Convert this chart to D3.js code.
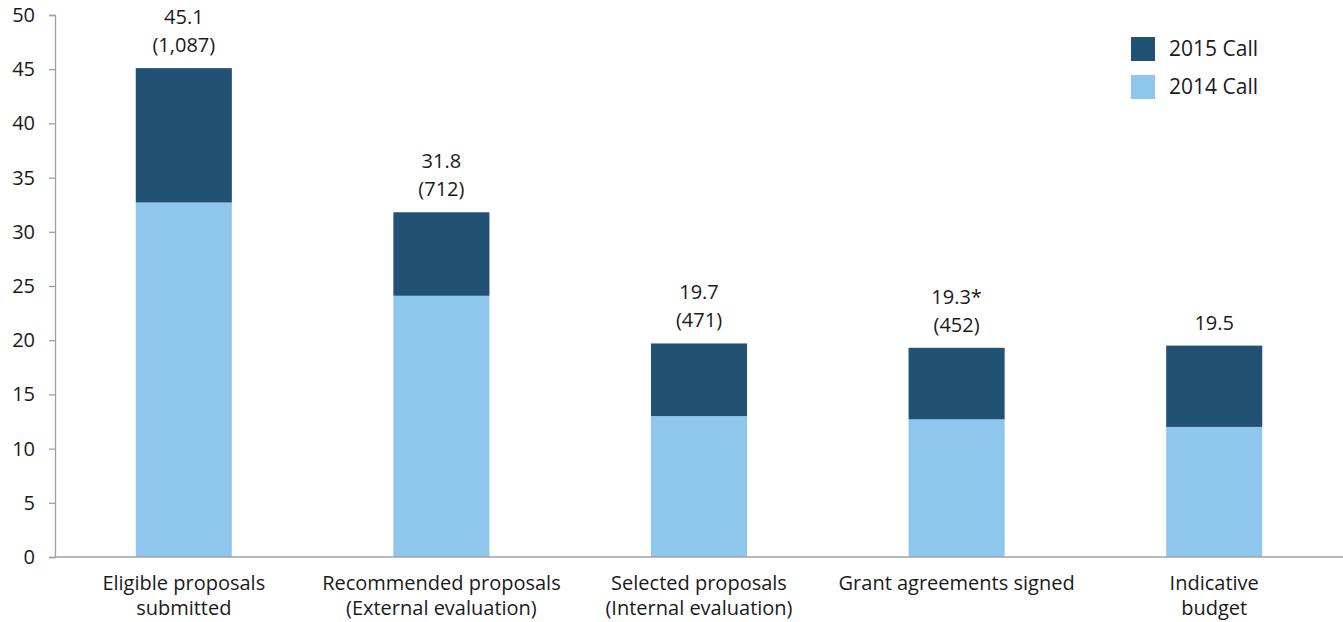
<!DOCTYPE html>
<html>
<head>
<meta charset="utf-8">
<script src="https://cdn.jsdelivr.net/npm/d3@7"></script>
<style>
  html, body { margin: 0; padding: 0; background: #fff; }
  svg { display: block; }
  text { font-family: "Open Sans", "Noto Sans", sans-serif; fill: #1a1a1a; }
</style>
</head>
<body>
<svg id="chart" width="1343" height="622"></svg>
<script>
// Budget (EUR million) by stage, split by call year
const categories = [
  ["Eligible proposals", "submitted"],
  ["Recommended proposals", "(External evaluation)"],
  ["Selected proposals", "(Internal evaluation)"],
  ["Grant agreements signed"],
  ["Indicative", "budget"]
];
const call2014 = [32.7, 24.1, 13.0, 12.7, 12.0];
const call2015 = [12.4, 7.7, 6.7, 6.6, 7.5];
const totalLabels = ["45.1", "31.8", "19.7", "19.3*", "19.5"];
const countLabels = ["(1,087)", "(712)", "(471)", "(452)", ""];
const seriesNames = ["2015 Call", "2014 Call"];
const yTicks = [0, 5, 10, 15, 20, 25, 30, 35, 40, 45, 50];

const colors = { c2014: "#8ec6ec", c2015: "#215274" };

const svg = d3.select("#chart");
const margin = { left: 55, right: 0, top: 15, bottom: 65 };
const W = 1343, H = 622;

const x = d3.scaleBand()
  .domain(d3.range(categories.length))
  .range([margin.left, W - margin.right])
  .paddingInner(0.627)
  .paddingOuter(0.3135);

const y = d3.scaleLinear().domain([0, 50]).range([H - margin.bottom, margin.top]);

// Stacked data
const rows = categories.map((c, i) => ({ i, a: call2014[i], b: call2015[i] }));
const stack = d3.stack().keys(["a", "b"])(rows);
const fills = [colors.c2014, colors.c2015];

svg.append("g").selectAll("g")
  .data(stack)
  .join("g")
  .attr("fill", (d, k) => fills[k])
  .selectAll("rect")
  .data(d => d)
  .join("rect")
  .attr("x", d => x(d.data.i))
  .attr("width", x.bandwidth())
  .attr("y", d => y(d[1]))
  .attr("height", d => y(d[0]) - y(d[1]));

// Y axis
const yAxis = svg.append("g")
  .attr("transform", `translate(${margin.left},0)`)
  .call(d3.axisLeft(y).tickValues(yTicks).tickSize(6).tickPadding(14));
yAxis.select(".domain").attr("stroke", "#a0a0a0").attr("stroke-width", 1.3);
yAxis.selectAll(".tick line").attr("stroke", "#a0a0a0").attr("stroke-width", 1.3);
yAxis.selectAll(".tick text").style("font-size", "20px").attr("fill", "#1a1a1a");

// X axis baseline
svg.append("line")
  .attr("x1", margin.left).attr("x2", W)
  .attr("y1", y(0)).attr("y2", y(0))
  .attr("stroke", "#a0a0a0").attr("stroke-width", 1.3);

// Category labels
const catG = svg.append("g").selectAll("text")
  .data(categories)
  .join("text")
  .attr("text-anchor", "middle")
  .attr("x", (d, i) => x(i) + x.bandwidth() / 2)
  .attr("y", 590)
  .style("font-size", "20px");
catG.selectAll("tspan")
  .data(d => d)
  .join("tspan")
  .attr("x", function () { return d3.select(this.parentNode).attr("x"); })
  .attr("dy", (d, j) => j === 0 ? 0 : 25)
  .text(d => d);

// Value labels above bars
const totals = rows.map(r => r.a + r.b);
const valG = svg.append("g");
valG.selectAll("text.total")
  .data(totalLabels)
  .join("text")
  .attr("class", "total")
  .attr("text-anchor", "middle")
  .attr("x", (d, i) => x(i) + x.bandwidth() / 2)
  .attr("y", (d, i) => y(totals[i]) - (countLabels[i] ? 44 : 16))
  .style("font-size", "20px")
  .text(d => d);
valG.selectAll("text.count")
  .data(countLabels)
  .join("text")
  .attr("class", "count")
  .attr("text-anchor", "middle")
  .attr("x", (d, i) => x(i) + x.bandwidth() / 2)
  .attr("y", (d, i) => y(totals[i]) - 16)
  .style("font-size", "20px")
  .text(d => d);

// Legend
const legend = svg.append("g").attr("transform", "translate(1131,37)");
const legItems = legend.selectAll("g")
  .data(seriesNames)
  .join("g")
  .attr("transform", (d, i) => `translate(0,${i * 38})`);
legItems.append("rect")
  .attr("width", 24).attr("height", 24)
  .attr("fill", (d, i) => i === 0 ? colors.c2015 : colors.c2014);
legItems.append("text")
  .attr("x", 38).attr("y", 12).attr("dy", "0.35em")
  .style("font-size", "21px")
  .text(d => d);
</script>
</body>
</html>
